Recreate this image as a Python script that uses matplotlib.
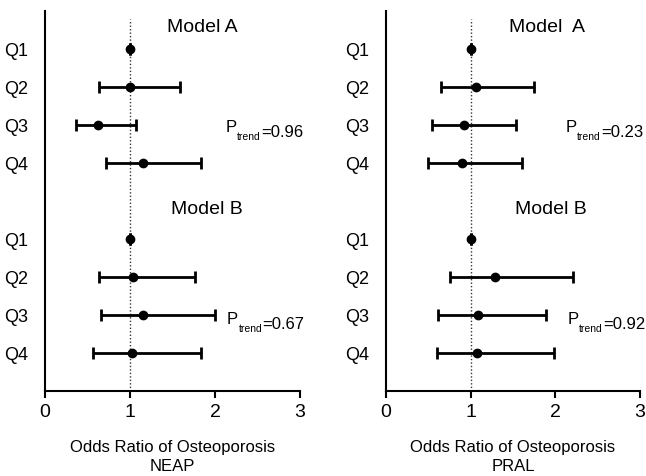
import matplotlib.pyplot as plt

plt.rcParams['font.family'] = ['Liberation Sans', 'DejaVu Sans']

# Quartis e posicoes (Modelo A em cima, Modelo B embaixo)
quartis = ['Q1', 'Q2', 'Q3', 'Q4', 'Q1', 'Q2', 'Q3', 'Q4']
posicoes = [0, 1, 2, 3, 5, 6, 7, 8]

# NEAP - odds ratio e intervalos de confianca
neap_or = [1.00, 1.00, 0.62, 1.15, 1.00, 1.04, 1.15, 1.02]
neap_lo = [1.00, 0.64, 0.37, 0.72, 1.00, 0.63, 0.66, 0.56]
neap_hi = [1.00, 1.59, 1.07, 1.84, 1.00, 1.77, 2.00, 1.84]
neap_p = ['0.96', '0.67']

# PRAL - odds ratio e intervalos de confianca
pral_or = [1.00, 1.06, 0.92, 0.90, 1.00, 1.29, 1.09, 1.08]
pral_lo = [1.00, 0.65, 0.54, 0.50, 1.00, 0.75, 0.62, 0.60]
pral_hi = [1.00, 1.75, 1.54, 1.61, 1.00, 2.21, 1.89, 1.99]
pral_p = ['0.23', '0.92']

fig = plt.figure(figsize=(6.46, 4.77), dpi=100)
ax1 = fig.add_axes([45 / 646, 85 / 477, 255 / 646, 380 / 477])
ax2 = fig.add_axes([386 / 646, 85 / 477, 254 / 646, 380 / 477])


def p_trend(ax, x, y, valor):
    # P com subscrito pequeno "trend" e depois "=valor"
    t1 = ax.text(x, y, 'P', fontsize=12, va='baseline')
    t2 = ax.annotate('trend', xy=(1, 0), xycoords=t1, xytext=(0.5, -3),
                     textcoords='offset points', fontsize=7.5, va='baseline')
    ax.annotate('=' + valor, xy=(1, 0), xycoords=t2, xytext=(0, 3),
                textcoords='offset points', fontsize=12, va='baseline')


def desenha(ax, odds, lo, hi, pvals, nome, titulo_a, xa):
    erro = [[o - l for o, l in zip(odds, lo)], [h - o for o, h in zip(odds, hi)]]
    ax.axvline(1, ymin=0, ymax=0.98, color='#333333', linestyle=(0, (1, 1.5)), linewidth=1, zorder=1)
    ax.errorbar(odds, posicoes, xerr=erro, fmt='o', color='black', markersize=6,
                elinewidth=2, capsize=4, capthick=2, zorder=3)
    ax.set_xlim(0, 3)
    ax.set_ylim(9, -1)
    ax.set_xticks([0, 1, 2, 3])
    ax.tick_params(axis='x', labelsize=14, width=1.5, length=5)
    ax.set_yticks(posicoes)
    ax.set_yticklabels(quartis, fontsize=13)
    ax.tick_params(axis='y', length=0, pad=12)
    ax.spines['top'].set_visible(False)
    ax.spines['right'].set_visible(False)
    ax.spines['left'].set_linewidth(1.5)
    ax.spines['bottom'].set_linewidth(1.5)
    ax.set_xlabel('Odds Ratio of Osteoporosis\n' + nome, fontsize=12, labelpad=14,
                  linespacing=1.3)
    ax.text(xa, -0.6, titulo_a, fontsize=14, ha='center', va='center')
    ax.text(xa + 0.05, 4.2, 'Model B', fontsize=14, ha='center', va='center')
    p_trend(ax, 2.12, 2.17, pvals[0])
    p_trend(ax, 2.14, 7.22, pvals[1])


desenha(ax1, neap_or, neap_lo, neap_hi, neap_p, 'NEAP', 'Model A', 1.85)
desenha(ax2, pral_or, pral_lo, pral_hi, pral_p, 'PRAL', 'Model  A', 1.9)

plt.savefig('out.png', dpi=100)
